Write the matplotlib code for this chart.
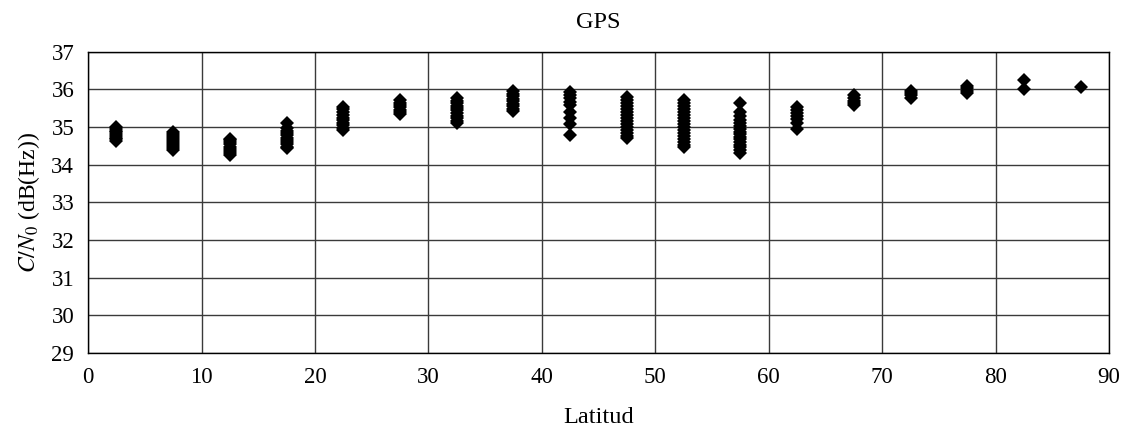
import matplotlib
matplotlib.use('Agg')
import matplotlib.pyplot as plt

plt.rcParams['font.family'] = ['Liberation Serif', 'DejaVu Serif']
plt.rcParams['mathtext.fontset'] = 'stix'

# latitude bins (centres) and the C/N0 values read for each one
latitud = [2.5, 7.5, 12.5, 17.5, 22.5, 27.5, 32.5, 37.5, 42.5,
           47.5, 52.5, 57.5, 62.5, 67.5, 72.5, 77.5, 82.5, 87.5]

cn0 = [
    [34.63, 34.68, 34.72, 34.77, 34.82, 34.86, 34.9, 34.95, 35.0],
    [34.39, 34.44, 34.5, 34.55, 34.6, 34.65, 34.7, 34.76, 34.82, 34.87],
    [34.25, 34.3, 34.36, 34.42, 34.48, 34.54, 34.6, 34.65, 34.69],
    [34.43, 34.48, 34.54, 34.6, 34.66, 34.72, 34.78, 34.84, 34.9, 34.97, 35.11],
    [34.92, 34.98, 35.05, 35.12, 35.18, 35.25, 35.32, 35.4, 35.47, 35.54],
    [35.34, 35.4, 35.46, 35.52, 35.58, 35.64, 35.72],
    [35.11, 35.17, 35.24, 35.3, 35.37, 35.44, 35.5, 35.57, 35.64, 35.7, 35.76],
    [35.43, 35.49, 35.55, 35.62, 35.68, 35.75, 35.82, 35.88, 35.95],
    [34.78, 35.09, 35.23, 35.4, 35.58, 35.66, 35.76, 35.85, 35.92],
    [34.7, 34.77, 34.84, 34.92, 35.0, 35.08, 35.16, 35.24, 35.32, 35.4,
     35.48, 35.56, 35.64, 35.72, 35.8],
    [34.46, 34.53, 34.6, 34.68, 34.76, 34.84, 34.92, 35.0, 35.08, 35.16,
     35.24, 35.32, 35.4, 35.48, 35.56, 35.64, 35.72],
    [34.32, 34.39, 34.46, 34.53, 34.6, 34.67, 34.74, 34.81, 34.88, 34.95,
     35.02, 35.1, 35.18, 35.3, 35.4, 35.63],
    [34.96, 35.12, 35.2, 35.28, 35.36, 35.44, 35.54],
    [35.58, 35.64, 35.7, 35.77, 35.85],
    [35.78, 35.84, 35.9, 35.95],
    [35.9, 35.96, 36.03, 36.1],
    [36.0, 36.25],
    [36.05],
]

fig = plt.figure(figsize=(11.26, 4.30), dpi=100)
ax = fig.add_axes([0.0782, 0.179, 0.9068, 0.7008])

for lat, vals in zip(latitud, cn0):
    ax.plot([lat] * len(vals), vals, linestyle='none', marker='D',
            markersize=7.2, color='black', markeredgewidth=0)

ax.set_xlim(0, 90)
ax.set_ylim(29, 37)
ax.set_xticks(range(0, 91, 10))
ax.set_yticks(range(29, 38))
ax.grid(True, color='#3a3a3a', linewidth=1.0)
ax.set_axisbelow(True)
for s in ax.spines.values():
    s.set_color('black')
    s.set_linewidth(1.0)
ax.tick_params(length=0, labelsize=16.5, pad=10)

ax.set_title('GPS', fontsize=17.5, pad=17)
ax.set_xlabel('Latitud', fontsize=17.5, labelpad=14)
ax.set_ylabel(r'$C/N_0$ (dB(Hz))', fontsize=17, labelpad=7)

fig.savefig('out.png', dpi=100)
